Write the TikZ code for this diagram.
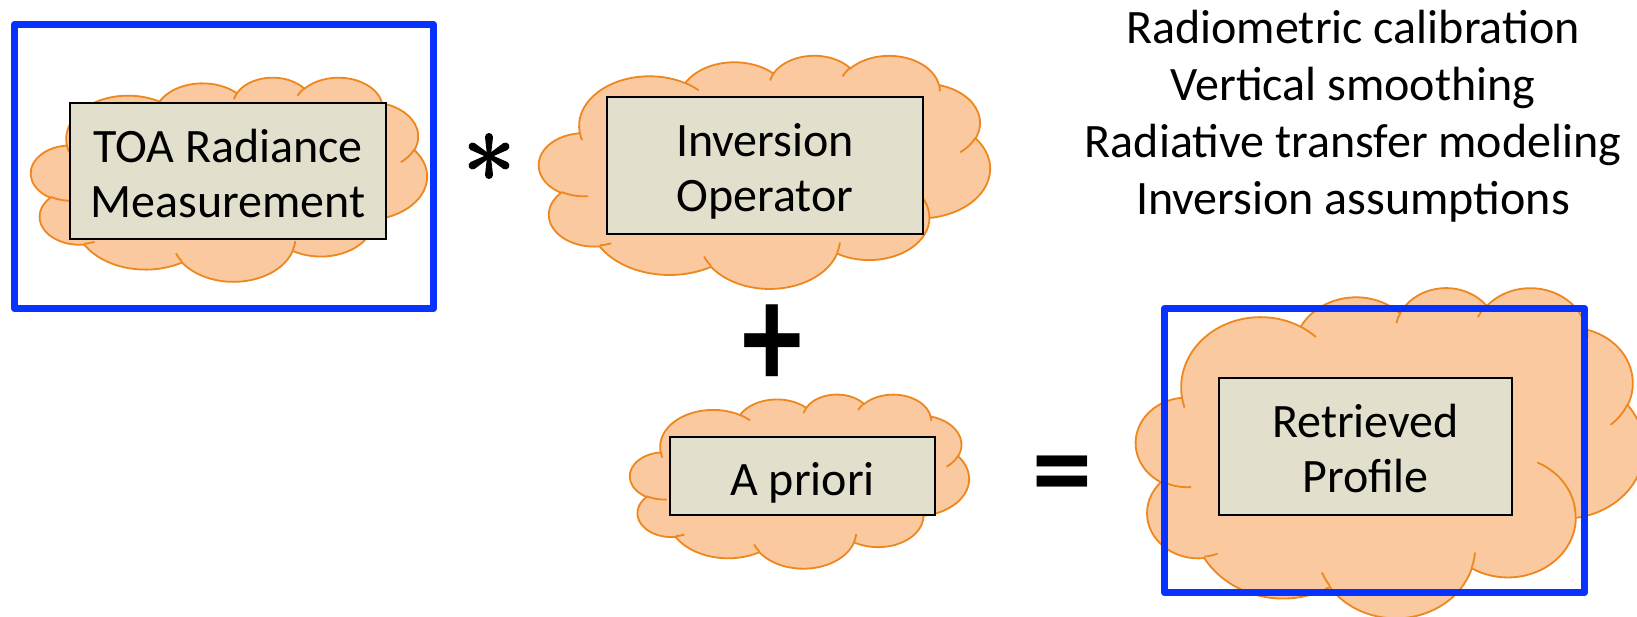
\documentclass[tikz,border=0pt]{standalone}
\usepackage{fontspec}
\setmainfont{Carlito}
\definecolor{cloudfill}{RGB}{250,201,160}
\definecolor{cloudedge}{RGB}{237,135,30}
\definecolor{boxfill}{RGB}{226,223,205}
\definecolor{frameblue}{RGB}{8,50,255}
\tikzset{
  % elliptic arc given by radii, visual start angle and sweep (y axis pointing down)
  ca/.style n args={4}{insert path={arc[x radius=#1, y radius=#2,
      start angle={atan2((#1)*sin(#3),(#2)*cos(#3))},
      delta angle={mod(atan2((#1)*sin((#3)+(#4)),(#2)*cos((#3)+(#4)))-atan2((#1)*sin(#3),(#2)*cos(#3))+720,360)}]}},
  cloudbody/.style={fill=cloudfill, draw=cloudedge, line width=0.9pt},
  cloudcrease/.style={draw=cloudedge, line width=0.9pt},
  textbox/.style={draw=black, fill=boxfill, line width=0.9pt, inner sep=0pt,
      align=center, font=\fontsize{24}{27.5}\selectfont},
  notes/.style={inner sep=0pt, align=center, font=\fontsize{24}{28.4}\selectfont},
  operator/.style={inner sep=0pt, font=\bfseries\fontsize{60}{60}\selectfont},
  frame/.style={draw=frameblue, line width=3.7pt, line join=round},
}
% fixed line metrics, so every box sets its text at the same height
\newcommand\firstline{\rule{0pt}{18.5pt}}
% cloud outline filling the box left, top, right, bottom
\newcommand\cloudat[4]{%
  \begin{scope}[shift={(#1,#2)}, xscale={(#3-#1)/432}, yscale={(#4-#2)/431.8}]
    \path[cloudbody] (39.00,143.70)
      [ca={67.53}{91.90}{-190.4875}{123.7805}]
      [ca={53.33}{72.67}{-144.1024}{89.9452}]
      [ca={43.65}{59.45}{-145.8079}{99.7230}]
      [ca={48.57}{65.95}{-130.9861}{117.2417}]
      [ca={53.33}{72.73}{-78.7089}{109.0269}]
      [ca={67.75}{92.20}{-46.2673}{130.2690}]
      [ca={57.85}{78.67}{0.6250}{114.0333}]
      [ca={67.52}{92.15}{22.4516}{115.1726}]
      [ca={77.20}{105.43}{66.2426}{75.7110}]
      [ca={43.60}{59.18}{-274.9421}{146.7356}]
      [ca={43.45}{59.45}{-246.8285}{152.5189}] -- cycle;
    \path[cloudcrease]
      (46.93,261.77) [ca={43.45}{59.45}{86.7420}{26.4295}]
      (69.28,348.99) [ca={43.60}{59.18}{73.6105}{11.4475}]
      (164.78,390.90) [ca={67.52}{92.15}{137.6242}{14.0811}]
      (288.27,347.51) [ca={67.52}{92.15}{6.4533}{15.9984}]
      (341.29,229.54) [ca={57.85}{78.67}{-70.2924}{70.9174}]
      (417.98,153.54) [ca={53.33}{72.73}{30.3180}{27.7515}]
      (383.24,54.26) [ca={48.57}{65.95}{-13.7443}{14.8589}]
      (290.78,39.52) [ca={48.57}{65.95}{-149.1815}{18.1954}]
      (221.41,47.20) [ca={43.65}{59.45}{-163.4943}{17.6864}]
      (140.00,51.92) [ca={67.53}{91.90}{-66.7070}{12.3194}]
      (41.27,157.89) [ca={67.53}{91.90}{157.6544}{11.8532}];
  \end{scope}}
\begin{document}
\begin{tikzpicture}[x=0.5pt, y=-0.5pt]
  \useasboundingbox (0,0) rectangle (1637,616);
  % clouds
  \cloudat{31}{77}{427}{281}
  \cloudat{539}{55}{990}{288}
  \cloudat{630}{394}{969}{568}
  \cloudat{1136}{287}{1644}{617}
  % labelled boxes
  \node[textbox, minimum width=158pt, minimum height=68pt] (toa) at (228,171)
    {\firstline TOA Radiance\\\smash{Measurement}};
  \node[textbox, minimum width=158pt, minimum height=68.5pt] (inv) at (765,165.5)
    {\firstline Inversion\\\smash{Operator}};
  \node[textbox, minimum width=132.5pt, minimum height=39pt] (apr) at (802.5,476)
    {\rule{0pt}{19pt}\smash{A priori}};
  \node[textbox, minimum width=146.5pt, minimum height=68.5pt] (ret) at (1365.5,446.5)
    {\firstline Retrieved\\\smash{Profile}};
  % operators: a six-armed asterisk, plus and equals signs
  \coordinate (times) at (489,156);
  \foreach \a in {0,60,...,300}
    \fill[shift={(times)}, rotate=\a]
      (-1.9,0) -- (-4,-19) arc[start angle=180, end angle=360, radius=4] -- (1.9,0) -- cycle;
  \node[operator] (plus) at (772,347) {\scalebox{1}[1.26]{+}};
  \node[operator] (equals) at (1062,482.5) {=};
  % list of error sources
  \node[notes, anchor=north] (list) at (1353,10)
    {Radiometric calibration\\Vertical smoothing\\Radiative transfer modeling\\Inversion assumptions};
  % highlight frames
  \draw[frame] (14.5,24.5) rectangle (433.5,308.5);
  \draw[frame] (1164.5,308.5) rectangle (1584.5,592.5);
\end{tikzpicture}
\end{document}
